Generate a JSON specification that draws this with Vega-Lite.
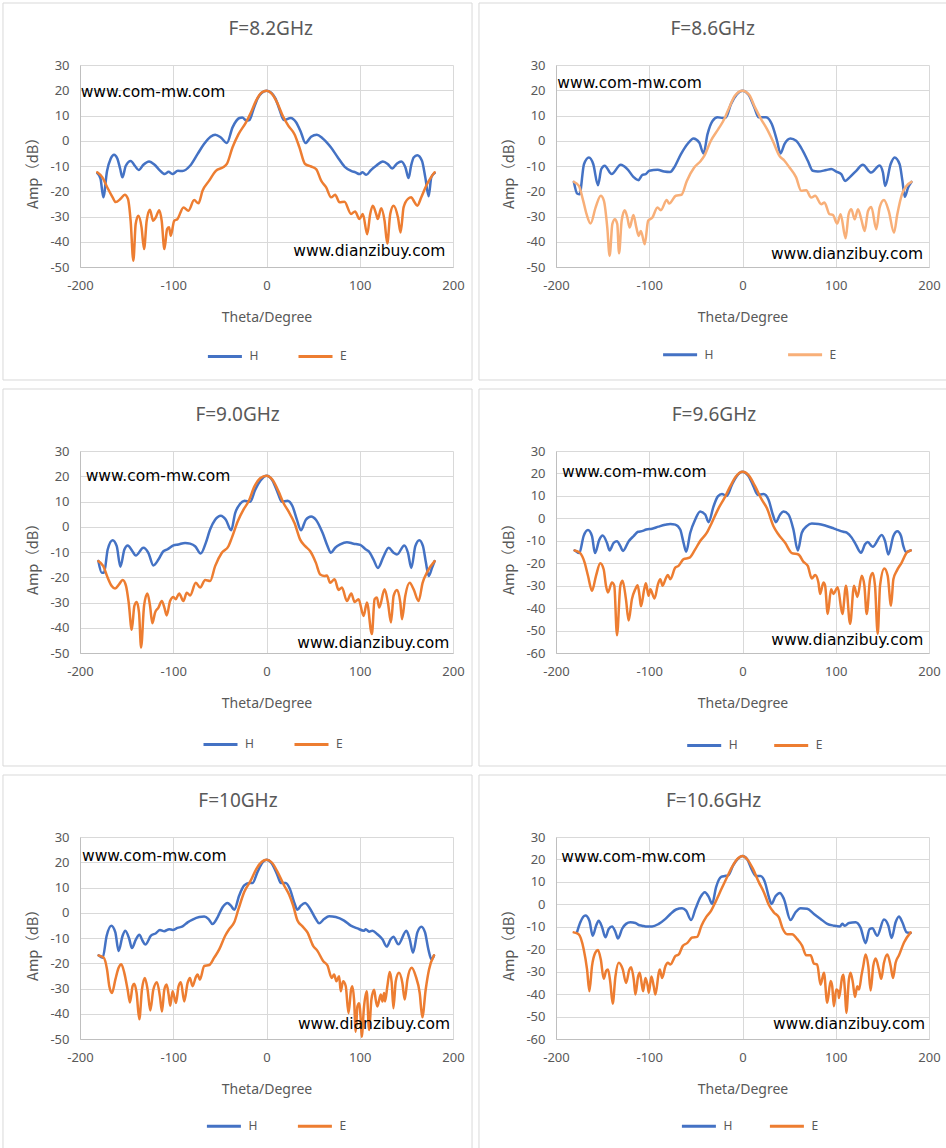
{
  "$schema": "https://vega.github.io/schema/vega-lite/v6.json",
  "padding": {"left": 2, "top": 2, "right": 0, "bottom": 0},
  "background": "white",
  "config": {
    "locale": {"number": {"decimal": ".", "thousands": ",", "grouping": [3], "currency": ["$", ""], "minus": "-"}},
    "view": {"stroke": null},
    "font": "Noto Sans",
    "axis": {
      "grid": true, "gridColor": "#D9D9D9", "gridWidth": 1,
      "domainColor": "#BFBFBF", "domainWidth": 1, "ticks": false,
      "labelColor": "#595959", "labelFont": "Noto Sans", "labelFontSize": 13,
      "labelFlush": false, "labelOverlap": false,
      "titleColor": "#595959", "titleFont": "Noto Sans", "titleFontSize": 14, "titleFontWeight": "normal"
    },
    "axisX": {"labelPadding": 12, "titleY": 50, "titleBaseline": "middle", "tickCount": 10},
    "axisY": {"labelPadding": 11, "titleX": -47, "titleY": 104, "titleBaseline": "middle", "titleFont": "Noto Sans CJK SC", "titleFontSize": 14.5, "tickCount": 12},
    "legend": {
      "orient": "none", "direction": "horizontal", "padding": 0,
      "symbolType": "stroke", "symbolSize": 1156, "symbolStrokeWidth": 3,
      "labelFont": "Noto Sans", "labelFontSize": 12, "labelColor": "#595959", "labelOffset": 6
    }
  },
  "datasets": {
    "p1": [
      {"theta":-181.5,"amp":-12.8,"pol":"H"},{"theta":-178,"amp":-15,"pol":"H"},{"theta":-175,"amp":-22.4,"pol":"H"},{"theta":-171,"amp":-12,"pol":"H"},{"theta":-167,"amp":-7,"pol":"H"},{"theta":-163.5,"amp":-5.5,"pol":"H"},{"theta":-160,"amp":-7,"pol":"H"},{"theta":-157,"amp":-11,"pol":"H"},{"theta":-154.5,"amp":-14.5,"pol":"H"},{"theta":-151,"amp":-10,"pol":"H"},{"theta":-145.6,"amp":-8,"pol":"H"},{"theta":-141,"amp":-10,"pol":"H"},{"theta":-137,"amp":-11.6,"pol":"H"},{"theta":-132,"amp":-9.5,"pol":"H"},{"theta":-126,"amp":-8.2,"pol":"H"},{"theta":-120,"amp":-9.5,"pol":"H"},{"theta":-115,"amp":-11.5,"pol":"H"},{"theta":-109,"amp":-13.2,"pol":"H"},{"theta":-105,"amp":-12.3,"pol":"H"},{"theta":-101,"amp":-13.2,"pol":"H"},{"theta":-95,"amp":-11.9,"pol":"H"},{"theta":-90,"amp":-12,"pol":"H"},{"theta":-82,"amp":-9.9,"pol":"H"},{"theta":-74,"amp":-5.3,"pol":"H"},{"theta":-67,"amp":-1.3,"pol":"H"},{"theta":-60,"amp":1.6,"pol":"H"},{"theta":-55,"amp":2.4,"pol":"H"},{"theta":-49,"amp":1.3,"pol":"H"},{"theta":-42.5,"amp":-0.9,"pol":"H"},{"theta":-36.4,"amp":5.3,"pol":"H"},{"theta":-29,"amp":9,"pol":"H"},{"theta":-26,"amp":9.2,"pol":"H"},{"theta":-21.4,"amp":8,"pol":"H"},{"theta":-18.4,"amp":8.2,"pol":"H"},{"theta":-14,"amp":12.5,"pol":"H"},{"theta":-9.5,"amp":16.8,"pol":"H"},{"theta":-5,"amp":19,"pol":"H"},{"theta":0,"amp":19.8,"pol":"H"},{"theta":5,"amp":19,"pol":"H"},{"theta":9.5,"amp":16.8,"pol":"H"},{"theta":14,"amp":12.3,"pol":"H"},{"theta":18.5,"amp":8.2,"pol":"H"},{"theta":26,"amp":9,"pol":"H"},{"theta":31.7,"amp":7.3,"pol":"H"},{"theta":37,"amp":3.3,"pol":"H"},{"theta":41.7,"amp":-0.9,"pol":"H"},{"theta":47.8,"amp":1.6,"pol":"H"},{"theta":54,"amp":2.4,"pol":"H"},{"theta":60,"amp":1,"pol":"H"},{"theta":69,"amp":-2.6,"pol":"H"},{"theta":76.5,"amp":-6.6,"pol":"H"},{"theta":83.6,"amp":-10.2,"pol":"H"},{"theta":90.7,"amp":-11.9,"pol":"H"},{"theta":95.4,"amp":-12.5,"pol":"H"},{"theta":99.7,"amp":-13.2,"pol":"H"},{"theta":103,"amp":-12.5,"pol":"H"},{"theta":107,"amp":-13.5,"pol":"H"},{"theta":112,"amp":-11.6,"pol":"H"},{"theta":117.6,"amp":-9.9,"pol":"H"},{"theta":124.8,"amp":-8.2,"pol":"H"},{"theta":130,"amp":-9.2,"pol":"H"},{"theta":134.8,"amp":-11,"pol":"H"},{"theta":140,"amp":-9,"pol":"H"},{"theta":144.5,"amp":-8.2,"pol":"H"},{"theta":149,"amp":-10.6,"pol":"H"},{"theta":152.4,"amp":-14.8,"pol":"H"},{"theta":155,"amp":-10,"pol":"H"},{"theta":157.8,"amp":-6.6,"pol":"H"},{"theta":161.7,"amp":-5.7,"pol":"H"},{"theta":166.7,"amp":-7.9,"pol":"H"},{"theta":170.3,"amp":-14.5,"pol":"H"},{"theta":173.9,"amp":-22,"pol":"H"},{"theta":176.7,"amp":-14.5,"pol":"H"},{"theta":180.3,"amp":-12.8,"pol":"H"},
      {"theta":-181.5,"amp":-12.5,"pol":"E"},{"theta":-176,"amp":-14.5,"pol":"E"},{"theta":-170.7,"amp":-18.5,"pol":"E"},{"theta":-165,"amp":-22.4,"pol":"E"},{"theta":-161.8,"amp":-24.3,"pol":"E"},{"theta":-156.5,"amp":-23,"pol":"E"},{"theta":-152,"amp":-21.4,"pol":"E"},{"theta":-148.6,"amp":-23,"pol":"E"},{"theta":-145.7,"amp":-31.7,"pol":"E"},{"theta":-142.8,"amp":-47.5,"pol":"E"},{"theta":-140.3,"amp":-33,"pol":"E"},{"theta":-137.4,"amp":-29.7,"pol":"E"},{"theta":-134,"amp":-34.3,"pol":"E"},{"theta":-131.3,"amp":-42.9,"pol":"E"},{"theta":-128.5,"amp":-31.7,"pol":"E"},{"theta":-125,"amp":-27.3,"pol":"E"},{"theta":-121.6,"amp":-31.7,"pol":"E"},{"theta":-118.8,"amp":-30.4,"pol":"E"},{"theta":-115,"amp":-27.5,"pol":"E"},{"theta":-112.4,"amp":-31.7,"pol":"E"},{"theta":-109.5,"amp":-42.9,"pol":"E"},{"theta":-106.6,"amp":-35,"pol":"E"},{"theta":-104.5,"amp":-34.3,"pol":"E"},{"theta":-102.7,"amp":-37.6,"pol":"E"},{"theta":-99,"amp":-31.7,"pol":"E"},{"theta":-95.5,"amp":-31,"pol":"E"},{"theta":-89,"amp":-26.4,"pol":"E"},{"theta":-83.7,"amp":-27.7,"pol":"E"},{"theta":-77.6,"amp":-23.5,"pol":"E"},{"theta":-73,"amp":-24.8,"pol":"E"},{"theta":-68.6,"amp":-19.8,"pol":"E"},{"theta":-61.5,"amp":-15.8,"pol":"E"},{"theta":-54.3,"amp":-11.9,"pol":"E"},{"theta":-47,"amp":-10.6,"pol":"E"},{"theta":-42.5,"amp":-9.2,"pol":"E"},{"theta":-36.4,"amp":-2.6,"pol":"E"},{"theta":-30,"amp":2.6,"pol":"E"},{"theta":-22,"amp":7.3,"pol":"E"},{"theta":-16.7,"amp":11.2,"pol":"E"},{"theta":-11.3,"amp":15.8,"pol":"E"},{"theta":-5.2,"amp":19.1,"pol":"E"},{"theta":0,"amp":19.8,"pol":"E"},{"theta":5.6,"amp":18.7,"pol":"E"},{"theta":11.3,"amp":15.2,"pol":"E"},{"theta":17.4,"amp":9.9,"pol":"E"},{"theta":23.5,"amp":5.9,"pol":"E"},{"theta":30,"amp":2.6,"pol":"E"},{"theta":35.3,"amp":-2.6,"pol":"E"},{"theta":41.4,"amp":-9.2,"pol":"E"},{"theta":47.8,"amp":-10.2,"pol":"E"},{"theta":53.2,"amp":-11.2,"pol":"E"},{"theta":58.6,"amp":-15.8,"pol":"E"},{"theta":64,"amp":-18.5,"pol":"E"},{"theta":69.3,"amp":-22.4,"pol":"E"},{"theta":73.6,"amp":-21.4,"pol":"E"},{"theta":78.3,"amp":-24.4,"pol":"E"},{"theta":83.6,"amp":-24.2,"pol":"E"},{"theta":90.7,"amp":-29,"pol":"E"},{"theta":95,"amp":-28,"pol":"E"},{"theta":99.7,"amp":-31,"pol":"E"},{"theta":103.3,"amp":-29,"pol":"E"},{"theta":108,"amp":-37,"pol":"E"},{"theta":111.2,"amp":-29,"pol":"E"},{"theta":114,"amp":-25.7,"pol":"E"},{"theta":117.6,"amp":-29,"pol":"E"},{"theta":119.4,"amp":-31,"pol":"E"},{"theta":123,"amp":-26.7,"pol":"E"},{"theta":126.6,"amp":-31.7,"pol":"E"},{"theta":129.5,"amp":-40.7,"pol":"E"},{"theta":132.7,"amp":-29,"pol":"E"},{"theta":136.3,"amp":-25.7,"pol":"E"},{"theta":141,"amp":-30.4,"pol":"E"},{"theta":143.8,"amp":-36.3,"pol":"E"},{"theta":147,"amp":-26.4,"pol":"E"},{"theta":151.7,"amp":-23,"pol":"E"},{"theta":155.3,"amp":-22.4,"pol":"E"},{"theta":158.8,"amp":-24.4,"pol":"E"},{"theta":161.7,"amp":-25.7,"pol":"E"},{"theta":166,"amp":-22.4,"pol":"E"},{"theta":171.3,"amp":-17.8,"pol":"E"},{"theta":176.7,"amp":-14.3,"pol":"E"},{"theta":180.3,"amp":-12.5,"pol":"E"}
    ],
    "p2": [
      {"theta":-180.8,"amp":-16.3,"pol":"H"},{"theta":-177.3,"amp":-20.9,"pol":"H"},{"theta":-174.7,"amp":-21.2,"pol":"H"},{"theta":-170,"amp":-9.3,"pol":"H"},{"theta":-164.7,"amp":-6.6,"pol":"H"},{"theta":-160,"amp":-9.3,"pol":"H"},{"theta":-155,"amp":-17.6,"pol":"H"},{"theta":-151.4,"amp":-11.2,"pol":"H"},{"theta":-147.8,"amp":-9.9,"pol":"H"},{"theta":-140.3,"amp":-13.2,"pol":"H"},{"theta":-130.6,"amp":-9.5,"pol":"H"},{"theta":-123.5,"amp":-11.2,"pol":"H"},{"theta":-117,"amp":-14.3,"pol":"H"},{"theta":-111.6,"amp":-15.6,"pol":"H"},{"theta":-107.3,"amp":-13.5,"pol":"H"},{"theta":-103.8,"amp":-13.2,"pol":"H"},{"theta":-100,"amp":-11.9,"pol":"H"},{"theta":-91,"amp":-11.5,"pol":"H"},{"theta":-84,"amp":-12.2,"pol":"H"},{"theta":-77.6,"amp":-12.4,"pol":"H"},{"theta":-73.3,"amp":-10.6,"pol":"H"},{"theta":-66,"amp":-5.3,"pol":"H"},{"theta":-59,"amp":-1.3,"pol":"H"},{"theta":-52.5,"amp":0.9,"pol":"H"},{"theta":-46.4,"amp":-0.7,"pol":"H"},{"theta":-41.8,"amp":-5,"pol":"H"},{"theta":-37.5,"amp":2.6,"pol":"H"},{"theta":-32,"amp":7.9,"pol":"H"},{"theta":-26.7,"amp":9.3,"pol":"H"},{"theta":-21.3,"amp":9,"pol":"H"},{"theta":-17.7,"amp":9.3,"pol":"H"},{"theta":-12.4,"amp":14.5,"pol":"H"},{"theta":-5.9,"amp":18.5,"pol":"H"},{"theta":0,"amp":19.8,"pol":"H"},{"theta":6.3,"amp":18.3,"pol":"H"},{"theta":12.7,"amp":13.2,"pol":"H"},{"theta":17.4,"amp":9.3,"pol":"H"},{"theta":25.3,"amp":9.3,"pol":"H"},{"theta":31.4,"amp":6.6,"pol":"H"},{"theta":37,"amp":0,"pol":"H"},{"theta":40.7,"amp":-5,"pol":"H"},{"theta":45,"amp":-1.3,"pol":"H"},{"theta":51.4,"amp":0.9,"pol":"H"},{"theta":57.5,"amp":0,"pol":"H"},{"theta":64.7,"amp":-4,"pol":"H"},{"theta":70,"amp":-7.9,"pol":"H"},{"theta":75.4,"amp":-11.9,"pol":"H"},{"theta":80.8,"amp":-12.2,"pol":"H"},{"theta":89.8,"amp":-11.6,"pol":"H"},{"theta":95.2,"amp":-11.2,"pol":"H"},{"theta":100.5,"amp":-12.2,"pol":"H"},{"theta":105.9,"amp":-13.2,"pol":"H"},{"theta":110,"amp":-15.9,"pol":"H"},{"theta":114.9,"amp":-14.5,"pol":"H"},{"theta":122,"amp":-11.9,"pol":"H"},{"theta":129,"amp":-9.5,"pol":"H"},{"theta":138,"amp":-12.6,"pol":"H"},{"theta":147,"amp":-9.8,"pol":"H"},{"theta":150.6,"amp":-12.6,"pol":"H"},{"theta":153,"amp":-17.9,"pol":"H"},{"theta":158.8,"amp":-9.3,"pol":"H"},{"theta":163.1,"amp":-6.6,"pol":"H"},{"theta":168.5,"amp":-9.3,"pol":"H"},{"theta":171.5,"amp":-15.9,"pol":"H"},{"theta":174,"amp":-22.2,"pol":"H"},{"theta":177.6,"amp":-18.5,"pol":"H"},{"theta":181.2,"amp":-16.3,"pol":"H"},
      {"theta":-180.8,"amp":-16.3,"pol":"E"},{"theta":-175.4,"amp":-17.9,"pol":"E"},{"theta":-170.8,"amp":-23.8,"pol":"E"},{"theta":-167.2,"amp":-29.1,"pol":"E"},{"theta":-162.9,"amp":-32.8,"pol":"E"},{"theta":-157.5,"amp":-26.4,"pol":"E"},{"theta":-152,"amp":-21.8,"pol":"E"},{"theta":-148.6,"amp":-23.8,"pol":"E"},{"theta":-145,"amp":-34.4,"pol":"E"},{"theta":-142.5,"amp":-45.6,"pol":"E"},{"theta":-139.6,"amp":-33,"pol":"E"},{"theta":-136.8,"amp":-31.1,"pol":"E"},{"theta":-134.3,"amp":-33,"pol":"E"},{"theta":-132.4,"amp":-44.6,"pol":"E"},{"theta":-129.6,"amp":-31.7,"pol":"E"},{"theta":-126.3,"amp":-27.5,"pol":"E"},{"theta":-123.5,"amp":-30.4,"pol":"E"},{"theta":-121,"amp":-34.4,"pol":"E"},{"theta":-117,"amp":-29.4,"pol":"E"},{"theta":-113.8,"amp":-34.4,"pol":"E"},{"theta":-111.3,"amp":-37.7,"pol":"E"},{"theta":-109,"amp":-35.7,"pol":"E"},{"theta":-104.8,"amp":-41,"pol":"E"},{"theta":-101.2,"amp":-31.7,"pol":"E"},{"theta":-96.6,"amp":-30.4,"pol":"E"},{"theta":-91.2,"amp":-26.4,"pol":"E"},{"theta":-87.6,"amp":-27.5,"pol":"E"},{"theta":-81.2,"amp":-23.5,"pol":"E"},{"theta":-78.7,"amp":-24.9,"pol":"E"},{"theta":-71.5,"amp":-21.8,"pol":"E"},{"theta":-65.4,"amp":-21.4,"pol":"E"},{"theta":-59.7,"amp":-15.9,"pol":"E"},{"theta":-51.8,"amp":-10.6,"pol":"E"},{"theta":-44.6,"amp":-7.9,"pol":"E"},{"theta":-41,"amp":-6,"pol":"E"},{"theta":-33.9,"amp":0,"pol":"E"},{"theta":-26,"amp":4.6,"pol":"E"},{"theta":-19.5,"amp":8.6,"pol":"E"},{"theta":-14.2,"amp":13.2,"pol":"E"},{"theta":-8,"amp":17.9,"pol":"E"},{"theta":0,"amp":19.8,"pol":"E"},{"theta":7.3,"amp":18.1,"pol":"E"},{"theta":13.4,"amp":13.2,"pol":"E"},{"theta":19.9,"amp":8.6,"pol":"E"},{"theta":26.3,"amp":4.6,"pol":"E"},{"theta":32.4,"amp":0,"pol":"E"},{"theta":39.6,"amp":-6,"pol":"E"},{"theta":45,"amp":-7.9,"pol":"E"},{"theta":50.4,"amp":-10.6,"pol":"E"},{"theta":57.5,"amp":-14.5,"pol":"E"},{"theta":62.9,"amp":-19.8,"pol":"E"},{"theta":68.3,"amp":-19.6,"pol":"E"},{"theta":73.7,"amp":-22.5,"pol":"E"},{"theta":77.9,"amp":-21.8,"pol":"E"},{"theta":84.4,"amp":-25.1,"pol":"E"},{"theta":87.9,"amp":-24.5,"pol":"E"},{"theta":93.3,"amp":-29.1,"pol":"E"},{"theta":96.9,"amp":-29.4,"pol":"E"},{"theta":101.5,"amp":-32.8,"pol":"E"},{"theta":105.2,"amp":-29.1,"pol":"E"},{"theta":110.6,"amp":-38.6,"pol":"E"},{"theta":113.8,"amp":-29.1,"pol":"E"},{"theta":116.7,"amp":-27.1,"pol":"E"},{"theta":120.3,"amp":-31.1,"pol":"E"},{"theta":123.8,"amp":-27.1,"pol":"E"},{"theta":127.4,"amp":-31.1,"pol":"E"},{"theta":131,"amp":-35.7,"pol":"E"},{"theta":134.6,"amp":-27.8,"pol":"E"},{"theta":138.1,"amp":-26.2,"pol":"E"},{"theta":143.5,"amp":-35,"pol":"E"},{"theta":147.1,"amp":-26.4,"pol":"E"},{"theta":151.7,"amp":-23.5,"pol":"E"},{"theta":156.8,"amp":-27.8,"pol":"E"},{"theta":162.5,"amp":-36.4,"pol":"E"},{"theta":166,"amp":-29.1,"pol":"E"},{"theta":171,"amp":-21.2,"pol":"E"},{"theta":175.8,"amp":-17.9,"pol":"E"},{"theta":181.2,"amp":-16.3,"pol":"E"}
    ],
    "p3": [
      {"theta":-180.3,"amp":-13.6,"pol":"H"},{"theta":-176.7,"amp":-18.2,"pol":"H"},{"theta":-174.2,"amp":-18.2,"pol":"H"},{"theta":-170.3,"amp":-9,"pol":"H"},{"theta":-165,"amp":-5.3,"pol":"H"},{"theta":-160.6,"amp":-7.7,"pol":"H"},{"theta":-156.7,"amp":-15.8,"pol":"H"},{"theta":-152.4,"amp":-9,"pol":"H"},{"theta":-148.8,"amp":-7.4,"pol":"H"},{"theta":-143.8,"amp":-9.7,"pol":"H"},{"theta":-140.2,"amp":-11.4,"pol":"H"},{"theta":-132,"amp":-8.3,"pol":"H"},{"theta":-126.7,"amp":-10.3,"pol":"H"},{"theta":-121.3,"amp":-15.3,"pol":"H"},{"theta":-115.9,"amp":-13,"pol":"H"},{"theta":-110.6,"amp":-9.7,"pol":"H"},{"theta":-106.3,"amp":-9,"pol":"H"},{"theta":-99.8,"amp":-7.4,"pol":"H"},{"theta":-94.5,"amp":-7,"pol":"H"},{"theta":-87.3,"amp":-6.4,"pol":"H"},{"theta":-82,"amp":-6.7,"pol":"H"},{"theta":-76.6,"amp":-7.7,"pol":"H"},{"theta":-70.5,"amp":-10.6,"pol":"H"},{"theta":-65.1,"amp":-6.4,"pol":"H"},{"theta":-60.5,"amp":-1.1,"pol":"H"},{"theta":-55.1,"amp":2.8,"pol":"H"},{"theta":-49,"amp":4.4,"pol":"H"},{"theta":-43.6,"amp":2.8,"pol":"H"},{"theta":-37.9,"amp":-1.4,"pol":"H"},{"theta":-33.6,"amp":5.4,"pol":"H"},{"theta":-28.3,"amp":9.1,"pol":"H"},{"theta":-23.6,"amp":10.3,"pol":"H"},{"theta":-17.5,"amp":9.9,"pol":"H"},{"theta":-12.2,"amp":14.6,"pol":"H"},{"theta":-6.4,"amp":18.3,"pol":"H"},{"theta":0,"amp":20.2,"pol":"H"},{"theta":6.4,"amp":18.3,"pol":"H"},{"theta":12.2,"amp":13.3,"pol":"H"},{"theta":16.5,"amp":9.9,"pol":"H"},{"theta":22.5,"amp":10.3,"pol":"H"},{"theta":27.9,"amp":8.1,"pol":"H"},{"theta":32.6,"amp":2.8,"pol":"H"},{"theta":36.9,"amp":-1.4,"pol":"H"},{"theta":42.2,"amp":2.8,"pol":"H"},{"theta":47.9,"amp":4.1,"pol":"H"},{"theta":53,"amp":2.8,"pol":"H"},{"theta":60.1,"amp":-2.4,"pol":"H"},{"theta":65.5,"amp":-7.7,"pol":"H"},{"theta":69,"amp":-10.3,"pol":"H"},{"theta":73.7,"amp":-8.3,"pol":"H"},{"theta":79,"amp":-7,"pol":"H"},{"theta":86.2,"amp":-6.1,"pol":"H"},{"theta":93.4,"amp":-6.7,"pol":"H"},{"theta":100.5,"amp":-7.2,"pol":"H"},{"theta":106.6,"amp":-9,"pol":"H"},{"theta":109.5,"amp":-9.7,"pol":"H"},{"theta":114.8,"amp":-13,"pol":"H"},{"theta":119.5,"amp":-16.3,"pol":"H"},{"theta":125.6,"amp":-11.7,"pol":"H"},{"theta":131,"amp":-8.3,"pol":"H"},{"theta":136.3,"amp":-10.3,"pol":"H"},{"theta":139.9,"amp":-11,"pol":"H"},{"theta":147.8,"amp":-7.4,"pol":"H"},{"theta":151.7,"amp":-10.3,"pol":"H"},{"theta":155.3,"amp":-16.3,"pol":"H"},{"theta":159.6,"amp":-7.7,"pol":"H"},{"theta":163.9,"amp":-5.3,"pol":"H"},{"theta":167.8,"amp":-7.7,"pol":"H"},{"theta":171,"amp":-14.3,"pol":"H"},{"theta":173.9,"amp":-19.5,"pol":"H"},{"theta":177.5,"amp":-16.3,"pol":"H"},{"theta":180.3,"amp":-13.6,"pol":"H"},
      {"theta":-180.3,"amp":-13.6,"pol":"E"},{"theta":-175,"amp":-15.6,"pol":"E"},{"theta":-170.3,"amp":-20.2,"pol":"E"},{"theta":-166,"amp":-23.5,"pol":"E"},{"theta":-162.4,"amp":-24.5,"pol":"E"},{"theta":-158.1,"amp":-22.8,"pol":"E"},{"theta":-154.2,"amp":-21.1,"pol":"E"},{"theta":-150.6,"amp":-23.5,"pol":"E"},{"theta":-147.8,"amp":-30,"pol":"E"},{"theta":-144.5,"amp":-40.8,"pol":"E"},{"theta":-141.7,"amp":-31.3,"pol":"E"},{"theta":-139.2,"amp":-29.8,"pol":"E"},{"theta":-136.7,"amp":-34,"pol":"E"},{"theta":-134.5,"amp":-47.8,"pol":"E"},{"theta":-131.3,"amp":-31.3,"pol":"E"},{"theta":-127.7,"amp":-26.4,"pol":"E"},{"theta":-124.9,"amp":-31.3,"pol":"E"},{"theta":-122.4,"amp":-38.2,"pol":"E"},{"theta":-119.5,"amp":-34,"pol":"E"},{"theta":-115.9,"amp":-32,"pol":"E"},{"theta":-112.3,"amp":-29.4,"pol":"E"},{"theta":-109.5,"amp":-32,"pol":"E"},{"theta":-107,"amp":-35.1,"pol":"E"},{"theta":-103.4,"amp":-29.4,"pol":"E"},{"theta":-99.8,"amp":-27.8,"pol":"E"},{"theta":-97.3,"amp":-28.7,"pol":"E"},{"theta":-93.7,"amp":-26.4,"pol":"E"},{"theta":-89.1,"amp":-29.4,"pol":"E"},{"theta":-85.5,"amp":-26.1,"pol":"E"},{"theta":-81.9,"amp":-27.2,"pol":"E"},{"theta":-75.8,"amp":-22.2,"pol":"E"},{"theta":-71.2,"amp":-24.1,"pol":"E"},{"theta":-65.8,"amp":-21.1,"pol":"E"},{"theta":-60.5,"amp":-21.5,"pol":"E"},{"theta":-55.1,"amp":-15.6,"pol":"E"},{"theta":-47.9,"amp":-10.3,"pol":"E"},{"theta":-40.8,"amp":-7.7,"pol":"E"},{"theta":-37.2,"amp":-4.4,"pol":"E"},{"theta":-30.8,"amp":2.2,"pol":"E"},{"theta":-24.7,"amp":6.8,"pol":"E"},{"theta":-19.3,"amp":10,"pol":"E"},{"theta":-12.9,"amp":16,"pol":"E"},{"theta":-6.8,"amp":19.2,"pol":"E"},{"theta":0,"amp":20.2,"pol":"E"},{"theta":6.4,"amp":18.6,"pol":"E"},{"theta":12.9,"amp":14,"pol":"E"},{"theta":18.2,"amp":9.4,"pol":"E"},{"theta":23.6,"amp":6.1,"pol":"E"},{"theta":30,"amp":1.5,"pol":"E"},{"theta":36.1,"amp":-5.1,"pol":"E"},{"theta":41.5,"amp":-7.7,"pol":"E"},{"theta":46.9,"amp":-9.7,"pol":"E"},{"theta":53,"amp":-14.3,"pol":"E"},{"theta":57.6,"amp":-18.9,"pol":"E"},{"theta":62.3,"amp":-19.5,"pol":"E"},{"theta":64.8,"amp":-19.3,"pol":"E"},{"theta":68.3,"amp":-22.2,"pol":"E"},{"theta":73,"amp":-20.8,"pol":"E"},{"theta":77.3,"amp":-25,"pol":"E"},{"theta":80.9,"amp":-24.1,"pol":"E"},{"theta":86.2,"amp":-29.4,"pol":"E"},{"theta":90.9,"amp":-26.4,"pol":"E"},{"theta":94.5,"amp":-29.8,"pol":"E"},{"theta":98.7,"amp":-28.7,"pol":"E"},{"theta":104.1,"amp":-35.3,"pol":"E"},{"theta":107.7,"amp":-30,"pol":"E"},{"theta":113,"amp":-42.5,"pol":"E"},{"theta":115.9,"amp":-28.7,"pol":"E"},{"theta":118.4,"amp":-28,"pol":"E"},{"theta":120.9,"amp":-32,"pol":"E"},{"theta":126.6,"amp":-24.8,"pol":"E"},{"theta":130.2,"amp":-30,"pol":"E"},{"theta":133.5,"amp":-37.9,"pol":"E"},{"theta":136.3,"amp":-27.4,"pol":"E"},{"theta":139.9,"amp":-25,"pol":"E"},{"theta":143.5,"amp":-30,"pol":"E"},{"theta":145.3,"amp":-36.6,"pol":"E"},{"theta":148.8,"amp":-27.4,"pol":"E"},{"theta":153.5,"amp":-22.2,"pol":"E"},{"theta":157.8,"amp":-24.8,"pol":"E"},{"theta":163.1,"amp":-29.4,"pol":"E"},{"theta":167.4,"amp":-22.2,"pol":"E"},{"theta":172.8,"amp":-17.6,"pol":"E"},{"theta":180.3,"amp":-13.6,"pol":"E"}
    ],
    "p4": [
      {"theta":-180,"amp":-14.3,"pol":"H"},{"theta":-175,"amp":-15.5,"pol":"H"},{"theta":-170.4,"amp":-7.9,"pol":"H"},{"theta":-165.7,"amp":-5.2,"pol":"H"},{"theta":-161.4,"amp":-7.9,"pol":"H"},{"theta":-158.2,"amp":-15.5,"pol":"H"},{"theta":-153.6,"amp":-9.6,"pol":"H"},{"theta":-150,"amp":-7.7,"pol":"H"},{"theta":-145.4,"amp":-10.9,"pol":"H"},{"theta":-142.5,"amp":-14.3,"pol":"H"},{"theta":-138.2,"amp":-10.9,"pol":"H"},{"theta":-134.6,"amp":-10.2,"pol":"H"},{"theta":-131,"amp":-12.4,"pol":"H"},{"theta":-128.2,"amp":-14.5,"pol":"H"},{"theta":-122,"amp":-10.2,"pol":"H"},{"theta":-116.8,"amp":-7.9,"pol":"H"},{"theta":-112,"amp":-6,"pol":"H"},{"theta":-107.9,"amp":-5.7,"pol":"H"},{"theta":-103.2,"amp":-5,"pol":"H"},{"theta":-97,"amp":-4.6,"pol":"H"},{"theta":-90,"amp":-3.7,"pol":"H"},{"theta":-82.9,"amp":-2.9,"pol":"H"},{"theta":-77.5,"amp":-2.5,"pol":"H"},{"theta":-72.1,"amp":-2.8,"pol":"H"},{"theta":-66.8,"amp":-5,"pol":"H"},{"theta":-63.2,"amp":-10.9,"pol":"H"},{"theta":-60.4,"amp":-14.9,"pol":"H"},{"theta":-56,"amp":-6.4,"pol":"H"},{"theta":-50.7,"amp":-0.5,"pol":"H"},{"theta":-45.4,"amp":3.1,"pol":"H"},{"theta":-40,"amp":1.7,"pol":"H"},{"theta":-36.4,"amp":-1.7,"pol":"H"},{"theta":-31,"amp":5.4,"pol":"H"},{"theta":-26.4,"amp":9.8,"pol":"H"},{"theta":-22.1,"amp":10.8,"pol":"H"},{"theta":-16.8,"amp":10,"pol":"H"},{"theta":-11.4,"amp":14.9,"pol":"H"},{"theta":-6,"amp":18.9,"pol":"H"},{"theta":0,"amp":20.7,"pol":"H"},{"theta":6.4,"amp":18.9,"pol":"H"},{"theta":11.8,"amp":14.2,"pol":"H"},{"theta":16.4,"amp":10.5,"pol":"H"},{"theta":22.5,"amp":10.8,"pol":"H"},{"theta":27.9,"amp":8.3,"pol":"H"},{"theta":32.5,"amp":1.7,"pol":"H"},{"theta":35.7,"amp":-1.7,"pol":"H"},{"theta":40.4,"amp":1.7,"pol":"H"},{"theta":43.9,"amp":3,"pol":"H"},{"theta":49.3,"amp":1.7,"pol":"H"},{"theta":54.6,"amp":-5,"pol":"H"},{"theta":59.3,"amp":-14.3,"pol":"H"},{"theta":63.6,"amp":-6.4,"pol":"H"},{"theta":68.9,"amp":-3.5,"pol":"H"},{"theta":74.3,"amp":-2.3,"pol":"H"},{"theta":81.4,"amp":-2.5,"pol":"H"},{"theta":88.6,"amp":-3.2,"pol":"H"},{"theta":95.7,"amp":-4.2,"pol":"H"},{"theta":101,"amp":-5,"pol":"H"},{"theta":108.2,"amp":-6,"pol":"H"},{"theta":111.8,"amp":-6.4,"pol":"H"},{"theta":117.1,"amp":-8.6,"pol":"H"},{"theta":121.4,"amp":-11.6,"pol":"H"},{"theta":127.1,"amp":-15.3,"pol":"H"},{"theta":131.4,"amp":-11.6,"pol":"H"},{"theta":134.3,"amp":-10.6,"pol":"H"},{"theta":139.6,"amp":-12.7,"pol":"H"},{"theta":149.3,"amp":-7.4,"pol":"H"},{"theta":152.9,"amp":-10.2,"pol":"H"},{"theta":156.4,"amp":-16.1,"pol":"H"},{"theta":161.8,"amp":-7.9,"pol":"H"},{"theta":166.1,"amp":-5.8,"pol":"H"},{"theta":170,"amp":-7.9,"pol":"H"},{"theta":172.5,"amp":-12.4,"pol":"H"},{"theta":175.4,"amp":-15,"pol":"H"},{"theta":180.4,"amp":-14.3,"pol":"H"},
      {"theta":-180,"amp":-14.3,"pol":"E"},{"theta":-174.6,"amp":-15.3,"pol":"E"},{"theta":-169.3,"amp":-19.7,"pol":"E"},{"theta":-165.7,"amp":-25.6,"pol":"E"},{"theta":-161.4,"amp":-32.3,"pol":"E"},{"theta":-157.1,"amp":-25.6,"pol":"E"},{"theta":-152.5,"amp":-20,"pol":"E"},{"theta":-148.9,"amp":-22.7,"pol":"E"},{"theta":-146.4,"amp":-30,"pol":"E"},{"theta":-144.3,"amp":-33,"pol":"E"},{"theta":-140,"amp":-28.6,"pol":"E"},{"theta":-137.5,"amp":-30,"pol":"E"},{"theta":-134.6,"amp":-52.1,"pol":"E"},{"theta":-131,"amp":-30,"pol":"E"},{"theta":-128.6,"amp":-27.8,"pol":"E"},{"theta":-125,"amp":-36,"pol":"E"},{"theta":-122.1,"amp":-45.5,"pol":"E"},{"theta":-118.6,"amp":-36,"pol":"E"},{"theta":-115,"amp":-31.6,"pol":"E"},{"theta":-112.5,"amp":-29.8,"pol":"E"},{"theta":-110.4,"amp":-34.5,"pol":"E"},{"theta":-108.9,"amp":-39.2,"pol":"E"},{"theta":-105.4,"amp":-31.6,"pol":"E"},{"theta":-103.6,"amp":-28.9,"pol":"E"},{"theta":-100.7,"amp":-34.5,"pol":"E"},{"theta":-98.9,"amp":-31.6,"pol":"E"},{"theta":-94.3,"amp":-35.7,"pol":"E"},{"theta":-90.7,"amp":-29.4,"pol":"E"},{"theta":-88.2,"amp":-27.1,"pol":"E"},{"theta":-85.7,"amp":-30,"pol":"E"},{"theta":-81.8,"amp":-26.3,"pol":"E"},{"theta":-80,"amp":-25.3,"pol":"E"},{"theta":-77.5,"amp":-27.1,"pol":"E"},{"theta":-72.1,"amp":-22,"pol":"E"},{"theta":-68.6,"amp":-21.2,"pol":"E"},{"theta":-63.2,"amp":-18.2,"pol":"E"},{"theta":-56.8,"amp":-17.5,"pol":"E"},{"theta":-51.4,"amp":-14.3,"pol":"E"},{"theta":-45.4,"amp":-10.1,"pol":"E"},{"theta":-38.2,"amp":-6.4,"pol":"E"},{"theta":-32.9,"amp":-2,"pol":"E"},{"theta":-26.4,"amp":3.9,"pol":"E"},{"theta":-19.3,"amp":9.1,"pol":"E"},{"theta":-13.2,"amp":14.2,"pol":"E"},{"theta":-7.1,"amp":18.6,"pol":"E"},{"theta":0,"amp":20.7,"pol":"E"},{"theta":7.1,"amp":18.9,"pol":"E"},{"theta":13.6,"amp":14.2,"pol":"E"},{"theta":20.7,"amp":8.3,"pol":"E"},{"theta":26.1,"amp":4.6,"pol":"E"},{"theta":33.2,"amp":-3.5,"pol":"E"},{"theta":38.6,"amp":-7.2,"pol":"E"},{"theta":45.7,"amp":-10.9,"pol":"E"},{"theta":52.9,"amp":-15.5,"pol":"E"},{"theta":60,"amp":-16.1,"pol":"E"},{"theta":65.4,"amp":-19.4,"pol":"E"},{"theta":70,"amp":-21.2,"pol":"E"},{"theta":74.3,"amp":-26.8,"pol":"E"},{"theta":77.9,"amp":-25.3,"pol":"E"},{"theta":81.4,"amp":-28.6,"pol":"E"},{"theta":83.2,"amp":-33.7,"pol":"E"},{"theta":86.8,"amp":-28.6,"pol":"E"},{"theta":88.6,"amp":-30,"pol":"E"},{"theta":91.4,"amp":-42.6,"pol":"E"},{"theta":95,"amp":-31.6,"pol":"E"},{"theta":97.5,"amp":-33.7,"pol":"E"},{"theta":102.1,"amp":-30.7,"pol":"E"},{"theta":107.1,"amp":-42.6,"pol":"E"},{"theta":111,"amp":-30,"pol":"E"},{"theta":115.4,"amp":-47,"pol":"E"},{"theta":119.6,"amp":-30,"pol":"E"},{"theta":123.2,"amp":-35,"pol":"E"},{"theta":127.9,"amp":-25.6,"pol":"E"},{"theta":130.7,"amp":-30,"pol":"E"},{"theta":133.2,"amp":-42.6,"pol":"E"},{"theta":136.8,"amp":-27.1,"pol":"E"},{"theta":139.6,"amp":-24.4,"pol":"E"},{"theta":142.1,"amp":-30,"pol":"E"},{"theta":145,"amp":-51.5,"pol":"E"},{"theta":147.5,"amp":-30,"pol":"E"},{"theta":152.1,"amp":-22.3,"pol":"E"},{"theta":155.7,"amp":-25.6,"pol":"E"},{"theta":159.3,"amp":-38.9,"pol":"E"},{"theta":161.8,"amp":-27.1,"pol":"E"},{"theta":165.4,"amp":-23.4,"pol":"E"},{"theta":170.7,"amp":-19.7,"pol":"E"},{"theta":176.1,"amp":-15.3,"pol":"E"},{"theta":180.4,"amp":-14.3,"pol":"E"}
    ],
    "p5": [
      {"theta":-180,"amp":-16.9,"pol":"H"},{"theta":-175.7,"amp":-17.8,"pol":"H"},{"theta":-171.4,"amp":-9.1,"pol":"H"},{"theta":-166.4,"amp":-5.1,"pol":"H"},{"theta":-162.1,"amp":-7.8,"pol":"H"},{"theta":-158.6,"amp":-15.1,"pol":"H"},{"theta":-154.3,"amp":-9.1,"pol":"H"},{"theta":-151.4,"amp":-7.1,"pol":"H"},{"theta":-147.1,"amp":-10.5,"pol":"H"},{"theta":-144.3,"amp":-14,"pol":"H"},{"theta":-140,"amp":-10.5,"pol":"H"},{"theta":-136.4,"amp":-8.7,"pol":"H"},{"theta":-132.9,"amp":-11.1,"pol":"H"},{"theta":-130,"amp":-12.6,"pol":"H"},{"theta":-123.9,"amp":-9.1,"pol":"H"},{"theta":-118.6,"amp":-8.1,"pol":"H"},{"theta":-114.3,"amp":-6.8,"pol":"H"},{"theta":-109.6,"amp":-7.3,"pol":"H"},{"theta":-104.3,"amp":-6.5,"pol":"H"},{"theta":-100.7,"amp":-6.8,"pol":"H"},{"theta":-95.4,"amp":-6,"pol":"H"},{"theta":-90,"amp":-5.4,"pol":"H"},{"theta":-84.6,"amp":-3.8,"pol":"H"},{"theta":-79.3,"amp":-2.7,"pol":"H"},{"theta":-72.1,"amp":-1.7,"pol":"H"},{"theta":-66.8,"amp":-1.5,"pol":"H"},{"theta":-62.1,"amp":-2.5,"pol":"H"},{"theta":-57.9,"amp":-4.5,"pol":"H"},{"theta":-52.5,"amp":-1.8,"pol":"H"},{"theta":-47.1,"amp":2.2,"pol":"H"},{"theta":-41.8,"amp":3.9,"pol":"H"},{"theta":-38.2,"amp":2.8,"pol":"H"},{"theta":-34.6,"amp":1.2,"pol":"H"},{"theta":-29.3,"amp":6.8,"pol":"H"},{"theta":-23.9,"amp":10.8,"pol":"H"},{"theta":-18.6,"amp":11.8,"pol":"H"},{"theta":-15,"amp":11.8,"pol":"H"},{"theta":-9.6,"amp":16.2,"pol":"H"},{"theta":-4.3,"amp":19.9,"pol":"H"},{"theta":0,"amp":21,"pol":"H"},{"theta":5.7,"amp":19.5,"pol":"H"},{"theta":11.8,"amp":14.8,"pol":"H"},{"theta":15.4,"amp":11.8,"pol":"H"},{"theta":20.7,"amp":11.8,"pol":"H"},{"theta":25,"amp":9.5,"pol":"H"},{"theta":29.6,"amp":4.2,"pol":"H"},{"theta":33.2,"amp":1.2,"pol":"H"},{"theta":36.8,"amp":2.8,"pol":"H"},{"theta":41.4,"amp":3.9,"pol":"H"},{"theta":45.7,"amp":2.2,"pol":"H"},{"theta":52.9,"amp":-2.5,"pol":"H"},{"theta":56.4,"amp":-4.2,"pol":"H"},{"theta":61.8,"amp":-2.5,"pol":"H"},{"theta":67.1,"amp":-1.4,"pol":"H"},{"theta":74.3,"amp":-1.7,"pol":"H"},{"theta":83.2,"amp":-3.1,"pol":"H"},{"theta":90.4,"amp":-5.1,"pol":"H"},{"theta":97.5,"amp":-6.2,"pol":"H"},{"theta":104.6,"amp":-7.1,"pol":"H"},{"theta":106.4,"amp":-6.5,"pol":"H"},{"theta":110,"amp":-7.5,"pol":"H"},{"theta":113.6,"amp":-7.1,"pol":"H"},{"theta":118.9,"amp":-8.5,"pol":"H"},{"theta":124.3,"amp":-10.5,"pol":"H"},{"theta":128.9,"amp":-13.4,"pol":"H"},{"theta":133.2,"amp":-10.5,"pol":"H"},{"theta":136.1,"amp":-9.5,"pol":"H"},{"theta":141.4,"amp":-12.5,"pol":"H"},{"theta":150,"amp":-7.1,"pol":"H"},{"theta":153.6,"amp":-10.5,"pol":"H"},{"theta":157.1,"amp":-15.8,"pol":"H"},{"theta":161.8,"amp":-7.8,"pol":"H"},{"theta":166.1,"amp":-5.5,"pol":"H"},{"theta":170,"amp":-7.8,"pol":"H"},{"theta":173.6,"amp":-14.5,"pol":"H"},{"theta":177,"amp":-18.5,"pol":"H"},{"theta":179.6,"amp":-16.9,"pol":"H"},
      {"theta":-180,"amp":-16.9,"pol":"E"},{"theta":-174.6,"amp":-17.8,"pol":"E"},{"theta":-171,"amp":-22.5,"pol":"E"},{"theta":-168.6,"amp":-29.1,"pol":"E"},{"theta":-165.7,"amp":-31.8,"pol":"E"},{"theta":-162.1,"amp":-26.5,"pol":"E"},{"theta":-158.6,"amp":-21.8,"pol":"E"},{"theta":-155.7,"amp":-20.4,"pol":"E"},{"theta":-152.5,"amp":-23.8,"pol":"E"},{"theta":-148.9,"amp":-30.5,"pol":"E"},{"theta":-146.4,"amp":-35.5,"pol":"E"},{"theta":-143.6,"amp":-29.1,"pol":"E"},{"theta":-141.8,"amp":-28.1,"pol":"E"},{"theta":-139.3,"amp":-31.8,"pol":"E"},{"theta":-136.4,"amp":-42.2,"pol":"E"},{"theta":-133.6,"amp":-30.5,"pol":"E"},{"theta":-130.4,"amp":-25.8,"pol":"E"},{"theta":-127.5,"amp":-30.5,"pol":"E"},{"theta":-124.6,"amp":-38.7,"pol":"E"},{"theta":-121.4,"amp":-30.5,"pol":"E"},{"theta":-117.5,"amp":-27.5,"pol":"E"},{"theta":-114.3,"amp":-33.1,"pol":"E"},{"theta":-112.1,"amp":-39.1,"pol":"E"},{"theta":-109.6,"amp":-30.5,"pol":"E"},{"theta":-107.1,"amp":-28.4,"pol":"E"},{"theta":-105,"amp":-32.4,"pol":"E"},{"theta":-103.2,"amp":-36.8,"pol":"E"},{"theta":-100.7,"amp":-31.1,"pol":"E"},{"theta":-97.1,"amp":-35.7,"pol":"E"},{"theta":-94.3,"amp":-29.1,"pol":"E"},{"theta":-91.8,"amp":-27.5,"pol":"E"},{"theta":-88.2,"amp":-35.1,"pol":"E"},{"theta":-84.6,"amp":-27.8,"pol":"E"},{"theta":-82.1,"amp":-25.8,"pol":"E"},{"theta":-79.3,"amp":-29.1,"pol":"E"},{"theta":-75.7,"amp":-25.4,"pol":"E"},{"theta":-73.9,"amp":-24.5,"pol":"E"},{"theta":-71.4,"amp":-26.5,"pol":"E"},{"theta":-66.8,"amp":-21.1,"pol":"E"},{"theta":-61.4,"amp":-20.7,"pol":"E"},{"theta":-56.1,"amp":-17.8,"pol":"E"},{"theta":-50.7,"amp":-14.5,"pol":"E"},{"theta":-44.3,"amp":-9.1,"pol":"E"},{"theta":-40,"amp":-6.5,"pol":"E"},{"theta":-34.6,"amp":-3.8,"pol":"E"},{"theta":-30,"amp":1.5,"pol":"E"},{"theta":-23.9,"amp":8.2,"pol":"E"},{"theta":-16.8,"amp":12.8,"pol":"E"},{"theta":-10.7,"amp":17.5,"pol":"E"},{"theta":-5,"amp":20.2,"pol":"E"},{"theta":0,"amp":21,"pol":"E"},{"theta":5.7,"amp":19.9,"pol":"E"},{"theta":11.8,"amp":16.2,"pol":"E"},{"theta":18.9,"amp":10.8,"pol":"E"},{"theta":24.3,"amp":7.1,"pol":"E"},{"theta":28.6,"amp":2.8,"pol":"E"},{"theta":33.2,"amp":-3.1,"pol":"E"},{"theta":38.6,"amp":-5.4,"pol":"E"},{"theta":43.9,"amp":-7.8,"pol":"E"},{"theta":50,"amp":-13.1,"pol":"E"},{"theta":54.6,"amp":-15.1,"pol":"E"},{"theta":60.7,"amp":-19.1,"pol":"E"},{"theta":65.4,"amp":-20.9,"pol":"E"},{"theta":70,"amp":-25.8,"pol":"E"},{"theta":72.5,"amp":-24.5,"pol":"E"},{"theta":75,"amp":-27.1,"pol":"E"},{"theta":77.9,"amp":-25.1,"pol":"E"},{"theta":79.6,"amp":-31.1,"pol":"E"},{"theta":82.1,"amp":-27.1,"pol":"E"},{"theta":85,"amp":-29.1,"pol":"E"},{"theta":87.9,"amp":-39.8,"pol":"E"},{"theta":90.7,"amp":-30.5,"pol":"E"},{"theta":92.1,"amp":-29.1,"pol":"E"},{"theta":93.9,"amp":-34.4,"pol":"E"},{"theta":95.7,"amp":-47.1,"pol":"E"},{"theta":97.5,"amp":-37.1,"pol":"E"},{"theta":99.3,"amp":-35.8,"pol":"E"},{"theta":101.1,"amp":-42.4,"pol":"E"},{"theta":102.1,"amp":-49.1,"pol":"E"},{"theta":104.6,"amp":-37.1,"pol":"E"},{"theta":107.5,"amp":-31.1,"pol":"E"},{"theta":110,"amp":-46.4,"pol":"E"},{"theta":112.5,"amp":-34.4,"pol":"E"},{"theta":115.4,"amp":-30.5,"pol":"E"},{"theta":117.1,"amp":-34.4,"pol":"E"},{"theta":118.9,"amp":-37.1,"pol":"E"},{"theta":122.5,"amp":-32.4,"pol":"E"},{"theta":124.3,"amp":-35.1,"pol":"E"},{"theta":126.1,"amp":-31.8,"pol":"E"},{"theta":127.1,"amp":-35.1,"pol":"E"},{"theta":129.6,"amp":-29.1,"pol":"E"},{"theta":132.1,"amp":-23.5,"pol":"E"},{"theta":134.3,"amp":-27.8,"pol":"E"},{"theta":136.1,"amp":-37.8,"pol":"E"},{"theta":138.6,"amp":-27.1,"pol":"E"},{"theta":142.1,"amp":-23.8,"pol":"E"},{"theta":145.7,"amp":-27.8,"pol":"E"},{"theta":148.2,"amp":-34.4,"pol":"E"},{"theta":151.1,"amp":-26.5,"pol":"E"},{"theta":155.7,"amp":-21.8,"pol":"E"},{"theta":160,"amp":-25.1,"pol":"E"},{"theta":164.3,"amp":-31.8,"pol":"E"},{"theta":167.1,"amp":-41.4,"pol":"E"},{"theta":170.7,"amp":-30.5,"pol":"E"},{"theta":174.3,"amp":-22.5,"pol":"E"},{"theta":179.6,"amp":-16.9,"pol":"E"}
    ],
    "p6": [
      {"theta":-177.5,"amp":-12.5,"pol":"H"},{"theta":-173.9,"amp":-8,"pol":"H"},{"theta":-168.5,"amp":-5,"pol":"H"},{"theta":-164.2,"amp":-7.3,"pol":"H"},{"theta":-160.6,"amp":-14,"pol":"H"},{"theta":-157,"amp":-9.5,"pol":"H"},{"theta":-154.2,"amp":-7.3,"pol":"H"},{"theta":-150.6,"amp":-10.2,"pol":"H"},{"theta":-147,"amp":-14.7,"pol":"H"},{"theta":-143.5,"amp":-11,"pol":"H"},{"theta":-139.9,"amp":-9.9,"pol":"H"},{"theta":-136.3,"amp":-12.3,"pol":"H"},{"theta":-133.5,"amp":-15.2,"pol":"H"},{"theta":-129.2,"amp":-11,"pol":"H"},{"theta":-124.9,"amp":-8.7,"pol":"H"},{"theta":-120.2,"amp":-8,"pol":"H"},{"theta":-114.8,"amp":-8.3,"pol":"H"},{"theta":-111.3,"amp":-9.2,"pol":"H"},{"theta":-107.7,"amp":-9.5,"pol":"H"},{"theta":-102.3,"amp":-9.9,"pol":"H"},{"theta":-97,"amp":-9.9,"pol":"H"},{"theta":-89.8,"amp":-8.7,"pol":"H"},{"theta":-82.6,"amp":-6.5,"pol":"H"},{"theta":-77.3,"amp":-4.3,"pol":"H"},{"theta":-71.2,"amp":-2.3,"pol":"H"},{"theta":-64.8,"amp":-1.7,"pol":"H"},{"theta":-60.5,"amp":-2.8,"pol":"H"},{"theta":-55.1,"amp":-7,"pol":"H"},{"theta":-50.4,"amp":-2,"pol":"H"},{"theta":-45.1,"amp":3.2,"pol":"H"},{"theta":-40.4,"amp":5.4,"pol":"H"},{"theta":-36.1,"amp":3.2,"pol":"H"},{"theta":-32.6,"amp":0.2,"pol":"H"},{"theta":-28.3,"amp":7.7,"pol":"H"},{"theta":-22.9,"amp":12.2,"pol":"H"},{"theta":-19,"amp":12.6,"pol":"H"},{"theta":-15.4,"amp":12.9,"pol":"H"},{"theta":-10,"amp":17.4,"pol":"H"},{"theta":-4.7,"amp":20.4,"pol":"H"},{"theta":0,"amp":21.5,"pol":"H"},{"theta":5,"amp":20.1,"pol":"H"},{"theta":10.4,"amp":15.1,"pol":"H"},{"theta":14.7,"amp":12.6,"pol":"H"},{"theta":19.3,"amp":12.6,"pol":"H"},{"theta":24,"amp":9.9,"pol":"H"},{"theta":28.3,"amp":3.2,"pol":"H"},{"theta":31.1,"amp":0.2,"pol":"H"},{"theta":35.4,"amp":3.6,"pol":"H"},{"theta":40.1,"amp":5.1,"pol":"H"},{"theta":44.4,"amp":2.4,"pol":"H"},{"theta":51.5,"amp":-7,"pol":"H"},{"theta":56.9,"amp":-3.5,"pol":"H"},{"theta":62.3,"amp":-1.7,"pol":"H"},{"theta":69.4,"amp":-2,"pol":"H"},{"theta":76.6,"amp":-4.3,"pol":"H"},{"theta":83.7,"amp":-6.5,"pol":"H"},{"theta":90.9,"amp":-8.7,"pol":"H"},{"theta":98,"amp":-9.5,"pol":"H"},{"theta":104.5,"amp":-9.9,"pol":"H"},{"theta":107,"amp":-8.7,"pol":"H"},{"theta":109.8,"amp":-9.5,"pol":"H"},{"theta":114.1,"amp":-8.3,"pol":"H"},{"theta":121.3,"amp":-8,"pol":"H"},{"theta":126.7,"amp":-10.5,"pol":"H"},{"theta":132,"amp":-17.3,"pol":"H"},{"theta":136.3,"amp":-11,"pol":"H"},{"theta":139.2,"amp":-10.7,"pol":"H"},{"theta":144.5,"amp":-14,"pol":"H"},{"theta":151.7,"amp":-6.8,"pol":"H"},{"theta":156.4,"amp":-9.5,"pol":"H"},{"theta":159.9,"amp":-15,"pol":"H"},{"theta":164.2,"amp":-8,"pol":"H"},{"theta":167.8,"amp":-5.4,"pol":"H"},{"theta":171.4,"amp":-8,"pol":"H"},{"theta":176,"amp":-12.5,"pol":"H"},{"theta":180.3,"amp":-12.8,"pol":"H"},
      {"theta":-181,"amp":-12.5,"pol":"E"},{"theta":-175.7,"amp":-13.3,"pol":"E"},{"theta":-170.3,"amp":-20,"pol":"E"},{"theta":-166.7,"amp":-29,"pol":"E"},{"theta":-164.2,"amp":-38.7,"pol":"E"},{"theta":-161.4,"amp":-27.5,"pol":"E"},{"theta":-157.8,"amp":-21.5,"pol":"E"},{"theta":-155,"amp":-20.4,"pol":"E"},{"theta":-152,"amp":-24.5,"pol":"E"},{"theta":-148.8,"amp":-33.2,"pol":"E"},{"theta":-146.3,"amp":-29.7,"pol":"E"},{"theta":-144.2,"amp":-29,"pol":"E"},{"theta":-141.7,"amp":-35,"pol":"E"},{"theta":-139.2,"amp":-44.3,"pol":"E"},{"theta":-136.3,"amp":-32.2,"pol":"E"},{"theta":-132.7,"amp":-26,"pol":"E"},{"theta":-128.4,"amp":-29,"pol":"E"},{"theta":-124.9,"amp":-35,"pol":"E"},{"theta":-121.3,"amp":-29,"pol":"E"},{"theta":-119.5,"amp":-28,"pol":"E"},{"theta":-116.6,"amp":-33.5,"pol":"E"},{"theta":-114.8,"amp":-40.2,"pol":"E"},{"theta":-112,"amp":-32.2,"pol":"E"},{"theta":-110.2,"amp":-30.5,"pol":"E"},{"theta":-107.7,"amp":-36.5,"pol":"E"},{"theta":-106.6,"amp":-38.7,"pol":"E"},{"theta":-104.1,"amp":-32.8,"pol":"E"},{"theta":-101.6,"amp":-36.5,"pol":"E"},{"theta":-100.5,"amp":-39.4,"pol":"E"},{"theta":-97.7,"amp":-32.2,"pol":"E"},{"theta":-95.2,"amp":-36.5,"pol":"E"},{"theta":-93.4,"amp":-40.2,"pol":"E"},{"theta":-89.8,"amp":-30.5,"pol":"E"},{"theta":-88.7,"amp":-29,"pol":"E"},{"theta":-86.2,"amp":-32.8,"pol":"E"},{"theta":-82.6,"amp":-27.5,"pol":"E"},{"theta":-80.1,"amp":-26,"pol":"E"},{"theta":-77.3,"amp":-26.8,"pol":"E"},{"theta":-71.9,"amp":-23,"pol":"E"},{"theta":-68.3,"amp":-22.3,"pol":"E"},{"theta":-64,"amp":-18.5,"pol":"E"},{"theta":-59.4,"amp":-17.3,"pol":"E"},{"theta":-54,"amp":-14.8,"pol":"E"},{"theta":-48.7,"amp":-14.5,"pol":"E"},{"theta":-44,"amp":-9.5,"pol":"E"},{"theta":-39,"amp":-5.7,"pol":"E"},{"theta":-33.6,"amp":-2.8,"pol":"E"},{"theta":-29,"amp":1,"pol":"E"},{"theta":-22.5,"amp":6.9,"pol":"E"},{"theta":-16.5,"amp":12.2,"pol":"E"},{"theta":-11.1,"amp":16.7,"pol":"E"},{"theta":-5.7,"amp":20.1,"pol":"E"},{"theta":0,"amp":21.5,"pol":"E"},{"theta":5,"amp":20.1,"pol":"E"},{"theta":11.1,"amp":15.9,"pol":"E"},{"theta":17.5,"amp":9.9,"pol":"E"},{"theta":22.9,"amp":5.4,"pol":"E"},{"theta":28.3,"amp":-0.3,"pol":"E"},{"theta":33.6,"amp":-3.6,"pol":"E"},{"theta":39,"amp":-5.8,"pol":"E"},{"theta":43.3,"amp":-11,"pol":"E"},{"theta":47.9,"amp":-13.3,"pol":"E"},{"theta":53.3,"amp":-13.3,"pol":"E"},{"theta":58.7,"amp":-15.5,"pol":"E"},{"theta":64,"amp":-18.5,"pol":"E"},{"theta":68.3,"amp":-22.7,"pol":"E"},{"theta":73,"amp":-22.7,"pol":"E"},{"theta":76.6,"amp":-26.4,"pol":"E"},{"theta":80.1,"amp":-26.8,"pol":"E"},{"theta":83.7,"amp":-35.8,"pol":"E"},{"theta":87.3,"amp":-30.5,"pol":"E"},{"theta":90.9,"amp":-43.9,"pol":"E"},{"theta":94.5,"amp":-34.2,"pol":"E"},{"theta":96.2,"amp":-36.5,"pol":"E"},{"theta":98,"amp":-45.4,"pol":"E"},{"theta":100.5,"amp":-38,"pol":"E"},{"theta":102.7,"amp":-38.7,"pol":"E"},{"theta":103.4,"amp":-41.7,"pol":"E"},{"theta":107,"amp":-32.2,"pol":"E"},{"theta":108,"amp":-31.4,"pol":"E"},{"theta":109.8,"amp":-38,"pol":"E"},{"theta":111.3,"amp":-48.4,"pol":"E"},{"theta":114.1,"amp":-33.5,"pol":"E"},{"theta":115.9,"amp":-30.5,"pol":"E"},{"theta":118.4,"amp":-35,"pol":"E"},{"theta":120.6,"amp":-41.3,"pol":"E"},{"theta":123.1,"amp":-36.5,"pol":"E"},{"theta":124.9,"amp":-38,"pol":"E"},{"theta":127.7,"amp":-31.4,"pol":"E"},{"theta":129.5,"amp":-27.5,"pol":"E"},{"theta":132,"amp":-22.3,"pol":"E"},{"theta":134.9,"amp":-27.5,"pol":"E"},{"theta":137.4,"amp":-38.4,"pol":"E"},{"theta":140.2,"amp":-27.5,"pol":"E"},{"theta":142.8,"amp":-24.1,"pol":"E"},{"theta":146.3,"amp":-29,"pol":"E"},{"theta":148.8,"amp":-33.2,"pol":"E"},{"theta":151.7,"amp":-26,"pol":"E"},{"theta":155.3,"amp":-22.3,"pol":"E"},{"theta":158.9,"amp":-27.5,"pol":"E"},{"theta":161.4,"amp":-32.8,"pol":"E"},{"theta":164.2,"amp":-26,"pol":"E"},{"theta":167.8,"amp":-22.7,"pol":"E"},{"theta":173.2,"amp":-17,"pol":"E"},{"theta":180.3,"amp":-12.5,"pol":"E"}
    ]
  },
  "spacing": 7,
  "resolve": {"scale": {"color": "independent"}, "legend": {"color": "independent"}},
  "vconcat": [
    {
      "spacing": 5,
      "resolve": {"scale": {"color": "independent"}, "legend": {"color": "independent"}},
      "hconcat": [
        {
          "width": 373, "height": 202,
          "data": {"values": [{}]},
          "layer": [
            {"mark": {"type": "rect", "fill": null, "stroke": "#D9D9D9", "strokeWidth": 1},
             "encoding": {"x": {"datum": -282.6}, "x2": {"datum": 220.4}, "y": {"datum": 54.55}, "y2": {"datum": -94.75}}},
            {"data": {"name": "p1"},
             "mark": {"type": "line", "interpolate": "monotone", "strokeWidth": 2.5, "strokeCap": "round", "strokeJoin": "round"},
             "encoding": {
               "x": {"field": "theta", "type": "quantitative", "scale": {"domain": [-200, 200], "nice": false, "zero": false}, "axis": {"values": [-200, -100, 0, 100, 200], "title": "Theta/Degree"}},
               "y": {"field": "amp", "type": "quantitative", "scale": {"domain": [-50, 30], "nice": false, "zero": false}, "axis": {"values": [-50, -40, -30, -20, -10, 0, 10, 20, 30], "title": "Amp（dB）"}},
               "color": {"field": "pol", "type": "nominal", "scale": {"domain": ["H", "E"], "range": ["#4472C4", "#ED7D31"]}, "legend": {"title": null, "legendX": 126.4, "legendY": 272.7, "columnPadding": 33.6}}
             }},
            {"mark": {"type": "text", "font": "Noto Sans", "fontSize": 19, "fill": "#595959", "align": "center", "baseline": "middle"},
             "encoding": {"x": {"datum": 4.5}, "y": {"datum": 44.4}, "text": {"value": "F=8.2GHz"}}},
            {"mark": {"type": "text", "font": "DejaVu Sans", "fontSize": 15.5, "fill": "black", "align": "left", "baseline": "alphabetic"},
             "encoding": {"x": {"datum": -199.3}, "y": {"datum": 17.5}, "text": {"value": "www.com-mw.com"}}},
            {"mark": {"type": "text", "font": "DejaVu Sans", "fontSize": 15.5, "fill": "black", "align": "right", "baseline": "alphabetic"},
             "encoding": {"x": {"datum": 191.8}, "y": {"datum": -45.5}, "text": {"value": "www.dianzibuy.com"}}}
          ]
        },
        {
          "width": 373, "height": 202,
          "data": {"values": [{}]},
          "layer": [
            {"mark": {"type": "rect", "fill": null, "stroke": "#D9D9D9", "strokeWidth": 1},
             "encoding": {"x": {"datum": -282.6}, "x2": {"datum": 220.4}, "y": {"datum": 54.55}, "y2": {"datum": -94.75}}},
            {"data": {"name": "p2"},
             "mark": {"type": "line", "interpolate": "monotone", "strokeWidth": 2.5, "strokeCap": "round", "strokeJoin": "round"},
             "encoding": {
               "x": {"field": "theta", "type": "quantitative", "scale": {"domain": [-200, 200], "nice": false, "zero": false}, "axis": {"values": [-200, -100, 0, 100, 200], "title": "Theta/Degree"}},
               "y": {"field": "amp", "type": "quantitative", "scale": {"domain": [-50, 30], "nice": false, "zero": false}, "axis": {"values": [-50, -40, -30, -20, -10, 0, 10, 20, 30], "title": "Amp（dB）"}},
               "color": {"field": "pol", "type": "nominal", "scale": {"domain": ["H", "E"], "range": ["#4472C4", "#F8AF78"]}, "legend": {"title": null, "legendX": 105.6, "legendY": 271, "columnPadding": 68}}
             }},
            {"mark": {"type": "text", "font": "Noto Sans", "fontSize": 19, "fill": "#595959", "align": "center", "baseline": "middle"},
             "encoding": {"x": {"datum": -32}, "y": {"datum": 44.4}, "text": {"value": "F=8.6GHz"}}},
            {"mark": {"type": "text", "font": "DejaVu Sans", "fontSize": 15.5, "fill": "black", "align": "left", "baseline": "alphabetic"},
             "encoding": {"x": {"datum": -198.6}, "y": {"datum": 20.8}, "text": {"value": "www.com-mw.com"}}},
            {"mark": {"type": "text", "font": "DejaVu Sans", "fontSize": 15.5, "fill": "black", "align": "right", "baseline": "alphabetic"},
             "encoding": {"x": {"datum": 193.6}, "y": {"datum": -46.7}, "text": {"value": "www.dianzibuy.com"}}}
          ]
        }
      ]
    },
    {
      "spacing": 5,
      "resolve": {"scale": {"color": "independent"}, "legend": {"color": "independent"}},
      "hconcat": [
        {
          "width": 373, "height": 202,
          "data": {"values": [{}]},
          "layer": [
            {"mark": {"type": "rect", "fill": null, "stroke": "#D9D9D9", "strokeWidth": 1},
             "encoding": {"x": {"datum": -282.6}, "x2": {"datum": 220.4}, "y": {"datum": 54.55}, "y2": {"datum": -94.75}}},
            {"data": {"name": "p3"},
             "mark": {"type": "line", "interpolate": "monotone", "strokeWidth": 2.5, "strokeCap": "round", "strokeJoin": "round"},
             "encoding": {
               "x": {"field": "theta", "type": "quantitative", "scale": {"domain": [-200, 200], "nice": false, "zero": false}, "axis": {"values": [-200, -100, 0, 100, 200], "title": "Theta/Degree"}},
               "y": {"field": "amp", "type": "quantitative", "scale": {"domain": [-50, 30], "nice": false, "zero": false}, "axis": {"values": [-50, -40, -30, -20, -10, 0, 10, 20, 30], "title": "Amp（dB）"}},
               "color": {"field": "pol", "type": "nominal", "scale": {"domain": ["H", "E"], "range": ["#4472C4", "#ED7D31"]}, "legend": {"title": null, "legendX": 122, "legendY": 274.7, "columnPadding": 34}}
             }},
            {"mark": {"type": "text", "font": "Noto Sans", "fontSize": 19, "fill": "#595959", "align": "center", "baseline": "middle"},
             "encoding": {"x": {"datum": -31}, "y": {"datum": 44.4}, "text": {"value": "F=9.0GHz"}}},
            {"mark": {"type": "text", "font": "DejaVu Sans", "fontSize": 15.5, "fill": "black", "align": "left", "baseline": "alphabetic"},
             "encoding": {"x": {"datum": -193.9}, "y": {"datum": 18.2}, "text": {"value": "www.com-mw.com"}}},
            {"mark": {"type": "text", "font": "DejaVu Sans", "fontSize": 15.5, "fill": "black", "align": "right", "baseline": "alphabetic"},
             "encoding": {"x": {"datum": 196.1}, "y": {"datum": -48}, "text": {"value": "www.dianzibuy.com"}}}
          ]
        },
        {
          "width": 373, "height": 202,
          "data": {"values": [{}]},
          "layer": [
            {"mark": {"type": "rect", "fill": null, "stroke": "#D9D9D9", "strokeWidth": 1},
             "encoding": {"x": {"datum": -282.6}, "x2": {"datum": 220.4}, "y": {"datum": 57.62}, "y2": {"datum": -110.35}}},
            {"data": {"name": "p4"},
             "mark": {"type": "line", "interpolate": "monotone", "strokeWidth": 2.5, "strokeCap": "round", "strokeJoin": "round"},
             "encoding": {
               "x": {"field": "theta", "type": "quantitative", "scale": {"domain": [-200, 200], "nice": false, "zero": false}, "axis": {"values": [-200, -100, 0, 100, 200], "title": "Theta/Degree"}},
               "y": {"field": "amp", "type": "quantitative", "scale": {"domain": [-60, 30], "nice": false, "zero": false}, "axis": {"values": [-60, -50, -40, -30, -20, -10, 0, 10, 20, 30], "title": "Amp（dB）"}},
               "color": {"field": "pol", "type": "nominal", "scale": {"domain": ["H", "E"], "range": ["#4472C4", "#ED7D31"]}, "legend": {"title": null, "legendX": 129.7, "legendY": 275.7, "columnPadding": 30}}
             }},
            {"mark": {"type": "text", "font": "Noto Sans", "fontSize": 19, "fill": "#595959", "align": "center", "baseline": "middle"},
             "encoding": {"x": {"datum": -30.6}, "y": {"datum": 46.2}, "text": {"value": "F=9.6GHz"}}},
            {"mark": {"type": "text", "font": "DejaVu Sans", "fontSize": 15.5, "fill": "black", "align": "left", "baseline": "alphabetic"},
             "encoding": {"x": {"datum": -193.6}, "y": {"datum": 18.2}, "text": {"value": "www.com-mw.com"}}},
            {"mark": {"type": "text", "font": "DejaVu Sans", "fontSize": 15.5, "fill": "black", "align": "right", "baseline": "alphabetic"},
             "encoding": {"x": {"datum": 193.9}, "y": {"datum": -56.6}, "text": {"value": "www.dianzibuy.com"}}}
          ]
        }
      ]
    },
    {
      "spacing": 5,
      "resolve": {"scale": {"color": "independent"}, "legend": {"color": "independent"}},
      "hconcat": [
        {
          "width": 373, "height": 202,
          "data": {"values": [{}]},
          "layer": [
            {"mark": {"type": "rect", "fill": null, "stroke": "#D9D9D9", "strokeWidth": 1},
             "encoding": {"x": {"datum": -282.6}, "x2": {"datum": 220.4}, "y": {"datum": 54.55}, "y2": {"datum": -94.75}}},
            {"data": {"name": "p5"},
             "mark": {"type": "line", "interpolate": "monotone", "strokeWidth": 2.5, "strokeCap": "round", "strokeJoin": "round"},
             "encoding": {
               "x": {"field": "theta", "type": "quantitative", "scale": {"domain": [-200, 200], "nice": false, "zero": false}, "axis": {"values": [-200, -100, 0, 100, 200], "title": "Theta/Degree"}},
               "y": {"field": "amp", "type": "quantitative", "scale": {"domain": [-50, 30], "nice": false, "zero": false}, "axis": {"values": [-50, -40, -30, -20, -10, 0, 10, 20, 30], "title": "Amp（dB）"}},
               "color": {"field": "pol", "type": "nominal", "scale": {"domain": ["H", "E"], "range": ["#4472C4", "#ED7D31"]}, "legend": {"title": null, "legendX": 125.4, "legendY": 270.4, "columnPadding": 34}}
             }},
            {"mark": {"type": "text", "font": "Noto Sans", "fontSize": 19, "fill": "#595959", "align": "center", "baseline": "middle"},
             "encoding": {"x": {"datum": -30.6}, "y": {"datum": 44.4}, "text": {"value": "F=10GHz"}}},
            {"mark": {"type": "text", "font": "DejaVu Sans", "fontSize": 15.5, "fill": "black", "align": "left", "baseline": "alphabetic"},
             "encoding": {"x": {"datum": -197.9}, "y": {"datum": 20.6}, "text": {"value": "www.com-mw.com"}}},
            {"mark": {"type": "text", "font": "DejaVu Sans", "fontSize": 15.5, "fill": "black", "align": "right", "baseline": "alphabetic"},
             "encoding": {"x": {"datum": 196.8}, "y": {"datum": -46}, "text": {"value": "www.dianzibuy.com"}}}
          ]
        },
        {
          "width": 373, "height": 202,
          "data": {"values": [{}]},
          "layer": [
            {"mark": {"type": "rect", "fill": null, "stroke": "#D9D9D9", "strokeWidth": 1},
             "encoding": {"x": {"datum": -282.6}, "x2": {"datum": 220.4}, "y": {"datum": 57.62}, "y2": {"datum": -110.35}}},
            {"data": {"name": "p6"},
             "mark": {"type": "line", "interpolate": "monotone", "strokeWidth": 2.5, "strokeCap": "round", "strokeJoin": "round"},
             "encoding": {
               "x": {"field": "theta", "type": "quantitative", "scale": {"domain": [-200, 200], "nice": false, "zero": false}, "axis": {"values": [-200, -100, 0, 100, 200], "title": "Theta/Degree"}},
               "y": {"field": "amp", "type": "quantitative", "scale": {"domain": [-60, 30], "nice": false, "zero": false}, "axis": {"values": [-60, -50, -40, -30, -20, -10, 0, 10, 20, 30], "title": "Amp（dB）"}},
               "color": {"field": "pol", "type": "nominal", "scale": {"domain": ["H", "E"], "range": ["#4472C4", "#ED7D31"]}, "legend": {"title": null, "legendX": 124.4, "legendY": 270.4, "columnPadding": 31}}
             }},
            {"mark": {"type": "text", "font": "Noto Sans", "fontSize": 19, "fill": "#595959", "align": "center", "baseline": "middle"},
             "encoding": {"x": {"datum": -31}, "y": {"datum": 46.2}, "text": {"value": "F=10.6GHz"}}},
            {"mark": {"type": "text", "font": "DejaVu Sans", "fontSize": 15.5, "fill": "black", "align": "left", "baseline": "alphabetic"},
             "encoding": {"x": {"datum": -194.3}, "y": {"datum": 18.8}, "text": {"value": "www.com-mw.com"}}},
            {"mark": {"type": "text", "font": "DejaVu Sans", "fontSize": 15.5, "fill": "black", "align": "right", "baseline": "alphabetic"},
             "encoding": {"x": {"datum": 195.7}, "y": {"datum": -55.7}, "text": {"value": "www.dianzibuy.com"}}}
          ]
        }
      ]
    }
  ]
}
